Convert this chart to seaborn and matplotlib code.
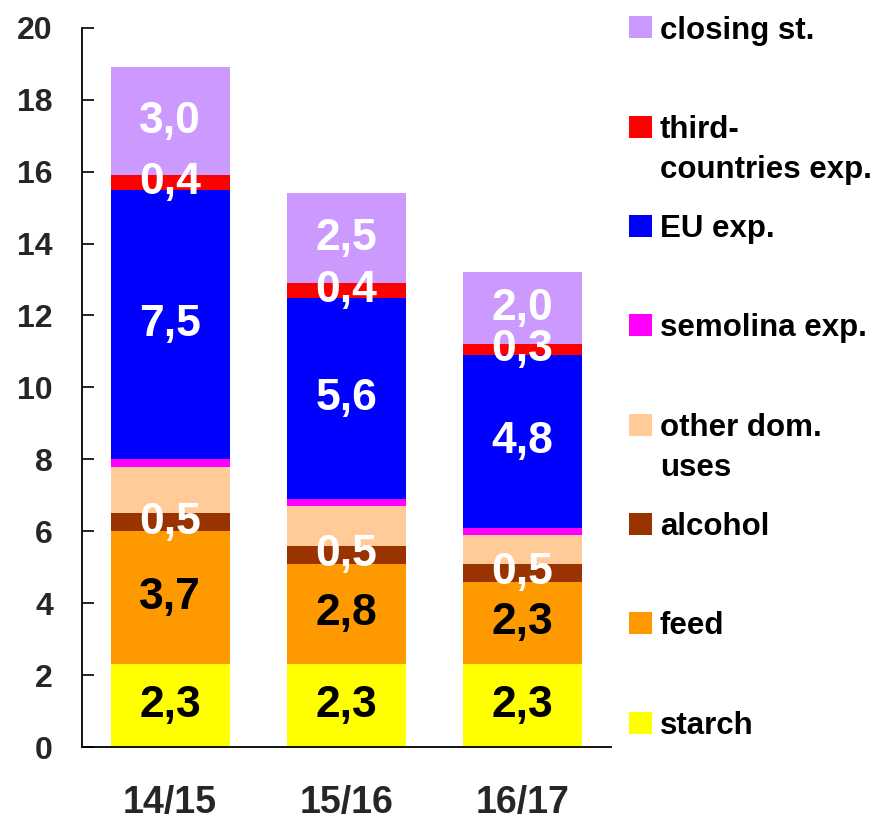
import matplotlib
matplotlib.use("Agg")
import matplotlib.pyplot as plt
from matplotlib.patches import Rectangle
import seaborn as sns
import numpy as np

# Marketing years
seasons = ["14/15", "15/16", "16/17"]

# Uses of supply (million t), stacked from the bottom up
starch = [2.3, 2.3, 2.3]
feed = [3.7, 2.8, 2.3]
alcohol = [0.5, 0.5, 0.5]
other_dom = [1.3, 1.1, 0.8]
semolina_exp = [0.2, 0.2, 0.2]
eu_exp = [7.5, 5.6, 4.8]
third_exp = [0.4, 0.4, 0.3]
closing = [3.0, 2.5, 2.0]

series_names = ["starch", "feed", "alcohol", "other dom.\nuses", "semolina exp.",
                "EU exp.", "third-\ncountries exp.", "closing st."]
series_values = [starch, feed, alcohol, other_dom, semolina_exp, eu_exp, third_exp, closing]
series_colors = ["#FFFF00", "#FF9900", "#993300", "#FFCC99", "#FF00FF",
                 "#0000FF", "#FF0000", "#CC99FF"]
# label colour per series (None = unlabelled)
label_colors = ["black", "black", "white", None, None, "white", "white", "white"]

yticks = [0, 2, 4, 6, 8, 10, 12, 14, 16, 18, 20]

sns.set_style("white")
plt.rcParams["font.family"] = ["Liberation Sans", "DejaVu Sans"]
plt.rcParams["font.weight"] = "bold"

fig = plt.figure(figsize=(8.93, 8.22), dpi=100)
ax = fig.add_axes([0.0918, 0.0912, 0.592, 0.875])

bottom = np.zeros(len(seasons))
for name, vals, col, lcol in zip(series_names, series_values, series_colors, label_colors):
    vals = np.asarray(vals, dtype=float)
    sns.barplot(x=seasons, y=vals, bottom=bottom, color=col, saturation=1,
                width=0.676, errorbar=None, linewidth=0, ax=ax)
    cont = ax.containers[-1]
    if lcol is not None:
        ax.bar_label(cont, labels=[f"{v:.1f}".replace(".", ",") for v in vals],
                     label_type="center", color=lcol, fontsize=32,
                     fontweight="bold", padding=0)
    bottom = bottom + vals

ax.set_xlim(-0.5, 2.5)
ax.set_ylim(0, 20)
ax.set_yticks(yticks)
ax.set_yticklabels([str(t) for t in yticks])
ax.set_xlabel("")
ax.set_ylabel("")

for s in ["top", "right"]:
    ax.spines[s].set_visible(False)
for s in ["left", "bottom"]:
    ax.spines[s].set_color("black")
    ax.spines[s].set_linewidth(1.3)

ax.tick_params(axis="y", direction="in", length=8.5, width=1.2, color="black",
               labelsize=23, pad=21, left=True)
ax.tick_params(axis="x", length=0, labelsize=27, pad=27)
for lab in ax.get_xticklabels() + ax.get_yticklabels():
    lab.set_fontweight("bold")

# Legend on the right, top entry first (pixel layout converted to figure fraction)
W, H = 893, 822
x_patch, patch_w, patch_h = 629, 23, 22
x_text = 660
y0, step, line_gap = 27.5, 99.3, 40
for i, (name, col) in enumerate(zip(series_names[::-1], series_colors[::-1])):
    yc = y0 + i * step
    fig.patches.append(Rectangle((x_patch / W, 1 - (yc + patch_h / 2) / H),
                                 patch_w / W, patch_h / H, facecolor=col,
                                 edgecolor="none", transform=fig.transFigure))
    for k, line in enumerate(name.split("\n")):
        fig.text(x_text / W, 1 - (yc + 11 + k * line_gap) / H, line,
                 fontsize=22.5, fontweight="bold", ha="left", va="baseline",
                 color="black")

fig.savefig("out.png", dpi=100)
